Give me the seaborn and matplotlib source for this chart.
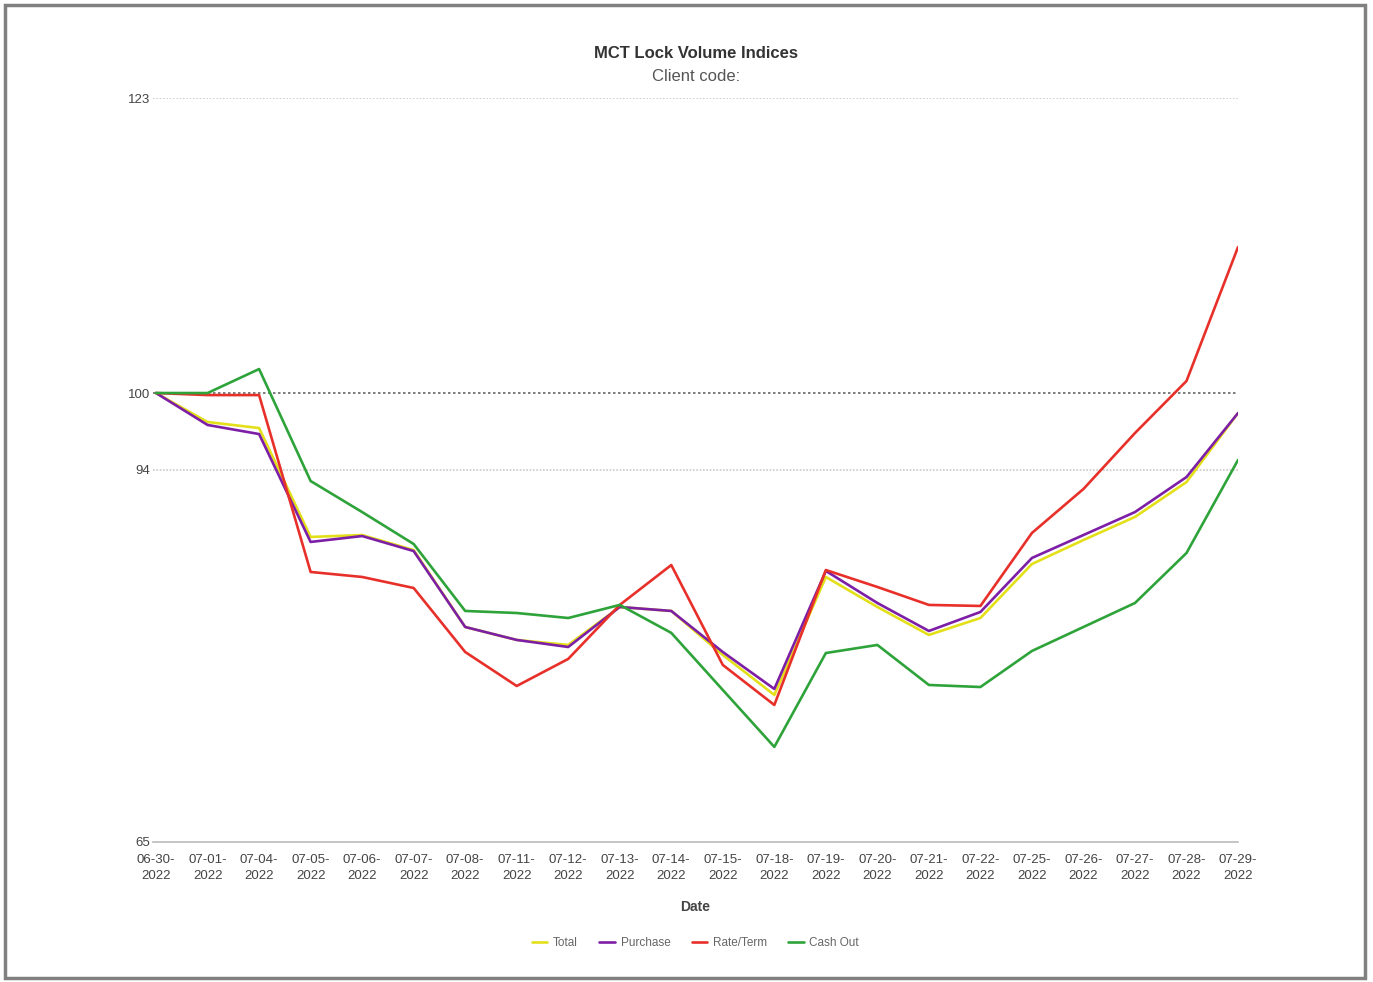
import matplotlib.pyplot as plt
import matplotlib.patches as mpatches
import seaborn as sns
import pandas as pd

dates = ['06-30-2022', '07-01-2022', '07-04-2022', '07-05-2022', '07-06-2022', '07-07-2022',
         '07-08-2022', '07-11-2022', '07-12-2022', '07-13-2022', '07-14-2022', '07-15-2022',
         '07-18-2022', '07-19-2022', '07-20-2022', '07-21-2022', '07-22-2022', '07-25-2022',
         '07-26-2022', '07-27-2022', '07-28-2022', '07-29-2022']

total = [100, 97.74, 97.27, 88.78, 88.93, 87.76, 81.76, 80.75, 80.36, 83.32, 83.01, 79.58,
         76.46, 85.66, 83.32, 81.14, 82.46, 86.67, 88.54, 90.34, 93.06, 98.44]
purchase = [100, 97.51, 96.80, 88.39, 88.85, 87.68, 81.76, 80.75, 80.20, 83.32, 83.01, 79.81,
            76.93, 86.13, 83.63, 81.45, 82.93, 87.14, 88.93, 90.72, 93.45, 98.44]
rate_term = [100, 99.84, 99.84, 86.05, 85.66, 84.80, 79.81, 77.16, 79.27, 83.48, 86.59, 78.80,
             75.68, 86.20, 84.88, 83.48, 83.40, 89.09, 92.52, 96.88, 100.94, 111.38]
cash_out = [100, 100, 101.87, 93.14, 90.72, 88.23, 83.01, 82.85, 82.46, 83.48, 81.30, 76.85,
            72.41, 79.73, 80.36, 77.24, 77.08, 79.89, 81.76, 83.63, 87.53, 94.78]

series = {'Total': total, 'Purchase': purchase, 'Rate/Term': rate_term, 'Cash Out': cash_out}
colors = {'Total': '#e3e01a', 'Purchase': '#7d1fa6', 'Rate/Term': '#e8302a', 'Cash Out': '#2ea33a'}
y_ticks = [65, 94, 100, 123]

rows = []
for name, vals in series.items():
    for i, v in enumerate(vals):
        rows.append({'idx': i, 'value': v, 'series': name})
df = pd.DataFrame(rows)

sns.set_style('white')
plt.rcParams['font.family'] = ['Liberation Sans', 'DejaVu Sans']

fig = plt.figure(figsize=(13.73, 9.82), dpi=100)
ax = fig.add_axes([0.1114, 0.1426, 0.7903, 0.7576])

sns.lineplot(data=df, x='idx', y='value', hue='series', hue_order=list(series.keys()),
             palette=colors, linewidth=1.9, ax=ax, legend=True)

ax.set_ylim(65, 123)
ax.set_xlim(-0.06, 21)
ax.set_yticks(y_ticks)
ax.set_yticklabels([str(t) for t in y_ticks], fontsize=9.5, color='#444444')
ax.set_xticks(range(len(dates)))
ax.set_xticklabels([d[:5] + '-\n' + d[6:] for d in dates], fontsize=9.5, color='#444444',
                   linespacing=1.35)
ax.tick_params(axis='y', length=0, pad=2)
ax.tick_params(axis='x', length=0, pad=9)

for t in [94, 123]:
    ax.axhline(t, color='#c8c8c8', linestyle=(0, (1, 1)), linewidth=1.2, zorder=0)
ax.axhline(100, color='#666666', linestyle=(0, (1.5, 1.5)), linewidth=1.2, zorder=0)

for s in ['top', 'right', 'left']:
    ax.spines[s].set_visible(False)
ax.spines['bottom'].set_color('#bbbbbb')
ax.spines['bottom'].set_linewidth(1.2)

ax.set_xlabel('Date', fontsize=10, fontweight='bold', color='#444444', labelpad=13)
ax.set_ylabel('')

leg = ax.legend(loc='upper center', bbox_to_anchor=(0.5, -0.113), ncol=4, frameon=False,
                fontsize=8.5, handlelength=1.3, columnspacing=1.8, handletextpad=0.5)
for txt in leg.get_texts():
    txt.set_color('#666666')

fig.text(0.507, 0.946, 'MCT Lock Volume Indices', ha='center', va='center',
         fontsize=12, fontweight='bold', color='#333333')
fig.text(0.507, 0.922, 'Client code:', ha='center', va='center', fontsize=12, color='#555555')

border = mpatches.Rectangle((0.004, 0.004), 0.99, 0.991, transform=fig.transFigure,
                            fill=False, edgecolor='#808080', linewidth=2.5)
fig.patches.append(border)

fig.savefig('out.png', dpi=100)
